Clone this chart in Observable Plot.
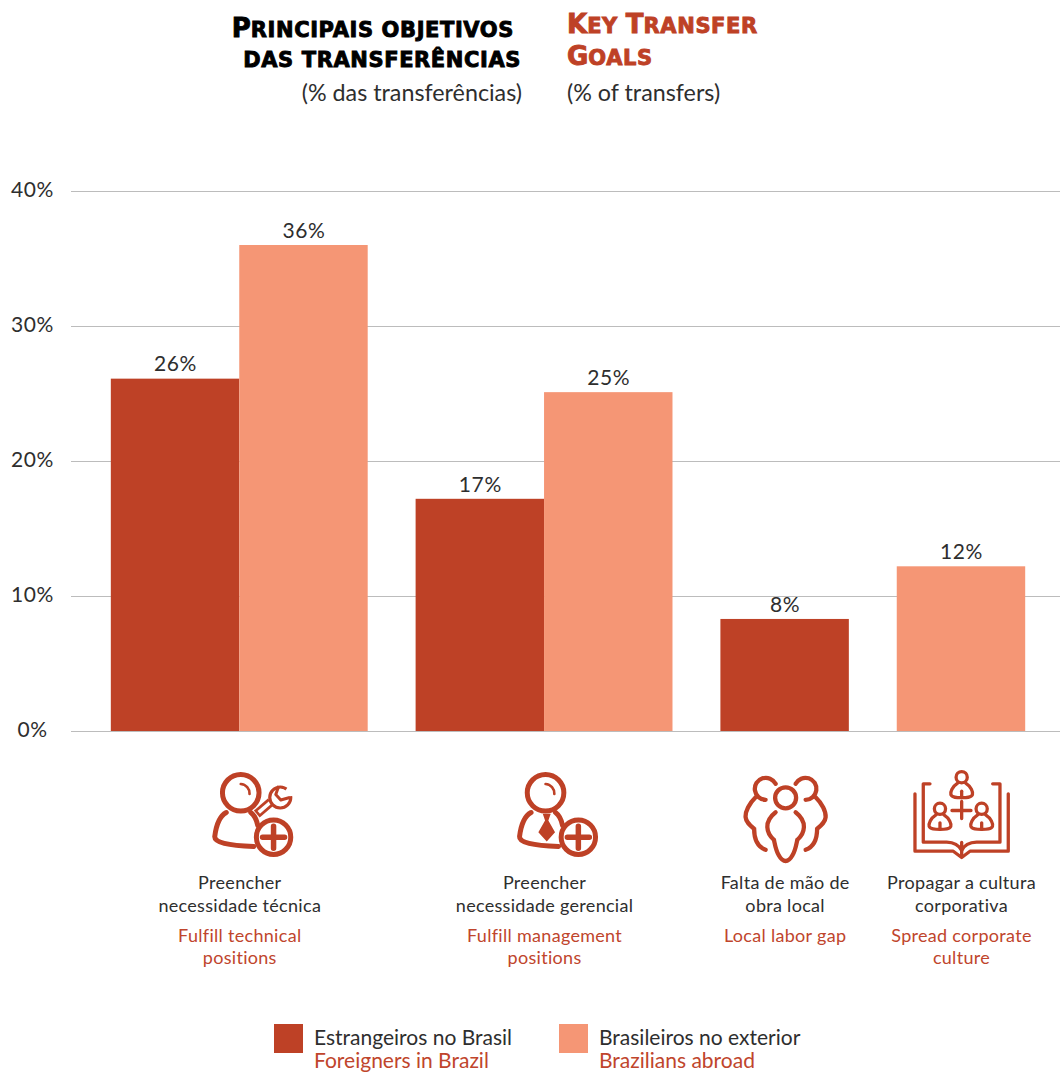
<!DOCTYPE html>
<html><head><meta charset="utf-8">
<script src="https://cdn.jsdelivr.net/npm/d3@7"></script>
<script src="https://cdn.jsdelivr.net/npm/@observablehq/plot@0.6"></script>
<style>
html,body{margin:0;padding:0;background:#fff;overflow:hidden}
body{width:1060px;height:1072px;font-family:Lato,sans-serif;color:#2e2e2e}
#head{position:relative;height:150px}
#head div,#legend div{position:absolute;white-space:nowrap}
.ttl{font-family:"DejaVu Sans";font-weight:700;font-size:26px;line-height:30px;-webkit-text-stroke:.9px currentColor}
.ttl span{font-size:21px;letter-spacing:.6px}
.sub{font-size:23.300px;line-height:26px}
#legend{position:relative;height:57px;overflow:hidden;font-size:21px;line-height:25px}
svg{display:block}
</style></head><body>
<div id="head"></div>
<div id="chart"></div>
<div id="legend"></div>
<script>
const dark = "#be4126", light = "#f59675";
const categories = ["tech","mgmt","labor","culture"];
const ptLabels = ["Preencher\nnecessidade técnica","Preencher\nnecessidade gerencial","Falta de mão de\nobra local","Propagar a cultura\ncorporativa"];
const enLabels = ["Fulfill technical\npositions","Fulfill management\npositions","Local labor gap","Spread corporate\nculture"];
const foreigners = [26.1,17.2,8.3,null];
const brazilians = [36,25.1,null,12.2];
const yTicks = [0,10,20,30,40];
const leftPad = 0.31, groupGap = 0.373, rightEnd = 7.7;

// Lay the bars out in bar-width units, one after another
let cursor = leftPad;
const bars = [], groups = [];
categories.forEach((c,i)=>{
  const start = cursor;
  [[foreigners[i],dark],[brazilians[i],light]].forEach(([v,col])=>{
    if(v!=null){bars.push({c,v,col,x1:cursor,x2:cursor+1}); cursor+=1;}
  });
  groups.push({c,mid:(start+cursor)/2,pt:ptLabels[i],en:enLabels[i],icon:i});
  cursor+=groupGap;
});

const R="#be4126";
const person=`<circle cx="1" cy="-22.7" r="18.3" fill="#fff" stroke="${R}" stroke-width="5"/>
<path d="M1,-31.5A9.5,9.5 0 0 1 9.8,-21.5" fill="none" stroke="${R}" stroke-width="2.6" stroke-linecap="round"/>
<path d="M-13.5,-3C-21,1 -24,13 -25,21C-25.500,27 -12,30 14,31" fill="none" stroke="${R}" stroke-width="5" stroke-linecap="round"/>
<path d="M11,-3C15,0 17,5 18,10" fill="none" stroke="${R}" stroke-width="5" stroke-linecap="round"/>`;
const plus=`<circle cx="33.8" cy="21.7" r="17.200" fill="#fff" stroke="${R}" stroke-width="5"/>
<path d="M22.800,21.700H44.800M33.800,10.700V32.700" stroke="${R}" stroke-width="5.500" stroke-linecap="round"/>`;
const wrench=`<path d="M17,-1.500L31,-13.500" stroke="${R}" stroke-width="9"/>
<path d="M19,-3.200L31,-13.500" stroke="#fff" stroke-width="3.600"/>
<circle cx="40.500" cy="-18" r="10.500" fill="#fff" stroke="${R}" stroke-width="3.200"/>
<path d="M40.500,-18L50,-31L56,-20Z" fill="#fff"/>
<path d="M39,-29.500L36,-21L41,-15.500L50,-18" fill="none" stroke="${R}" stroke-width="3" stroke-linejoin="round"/>`;
const tie=`<path d="M-1.800,-1.700H6.200L3.800,5L10.500,16.700L2.200,26L-6.200,16.700L.5,5Z" fill="${R}"/>`;
const side=`<path d="M-9.500,-31.700A11,11 0 1 0 -19.500,-15.700" /><path d="M-29.500,-18.300C-36,-12 -40,-4 -39.500,1.700C-39,7 -35,10 -31,13.300C-31,22 -29,31 -19.500,34.300"/>`;
const people=`<g fill="none" stroke="${R}" stroke-width="4.300" stroke-linecap="round">
${side}<g transform="translate(1,0) scale(-1,1)">${side}</g>
<circle cx=".5" cy="-17.700" r="10.500"/>
<path d="M-9.500,-3.300C-15,1 -18,7 -17.800,11.700C-17.500,18 -14,22 -11.200,24.300C-10,30 -9,36 -6.200,40C-4,44 -2,45.500 .5,45.500C3,45.500 5,44 7.200,40C10,36 11,30 12.200,24.300C15,22 18.500,18 18.800,11.700C19,7 16,1 10.500,-3.300"/></g>`;
const small=(x,y)=>`<g transform="translate(${x},${y})"><circle r="5.600"/><path d="M-4,6C-9.500,9.500 -11.500,15 -10.800,17.500C-9.500,20.500 -5,20.500 0,20.500C5,20.500 9.500,20.500 10.800,17.500C11.500,15 9.500,9.500 4,6"/><path d="M0,14V20.500"/></g>`;
const book=`<g fill="none" stroke="${R}" stroke-width="3.300" stroke-linecap="round" stroke-linejoin="round">
${small(.2,-38.300)}${small(-21.500,-6.700)}${small(20.200,-6.700)}
<path d="M.2,-14V3M-9.500,-5H9.500"/>
<path d="M-46.500,-21.700V35.700H-8.200L.2,42L8.500,35.700H46.800V-21.700"/>
<path d="M-31.500,-31.700H-38.200V26.700H-14.800Q-4,27 .2,35Q4,27 15.200,26.700H38.500V-31.700H31.200"/>
<path d="M.2,27V41"/></g>`;
const iconBodies=[wrench+person+plus, person+tie+plus, people, book];
const iconUri=b=>"data:image/svg+xml,"+encodeURIComponent(`<svg xmlns="http://www.w3.org/2000/svg" viewBox="-60 -50 120 100" width="120" height="100">${b}</svg>`);
groups.forEach(g=>g.src=iconUri(iconBodies[g.icon]));

const chart = Plot.plot({
  width:1060, height:865,
  marginLeft:71, marginRight:0, marginTop:41, marginBottom:284,
  style:{fontFamily:"Lato,sans-serif",background:"#fff"},
  x:{domain:[0,rightEnd],axis:null},
  y:{domain:[0,40],axis:null},
  marks:[
    Plot.ruleY(yTicks,{stroke:"#bcbcbc",strokeWidth:1}),
    Plot.rectY(bars,{x1:"x1",x2:"x2",y:"v",fill:"col"}),
    Plot.text(bars,{x:d=>(d.x1+d.x2)/2,y:"v",text:d=>d3.format(".0f")(d.v)+"%",dy:-14.5,fontSize:21,fill:"#2e2e2e"}),
    Plot.axisY({ticks:yTicks,tickSize:0,tickFormat:d=>d+"%",anchor:"left",textAnchor:"middle",tickPadding:0,dx:-39,dy:-1,fontSize:21,fill:"#2e2e2e",label:null}),
    Plot.image(groups,{x:"mid",y:()=>0,src:"src",width:120,height:100,dy:84}),
    Plot.text(groups,{x:"mid",y:()=>0,text:"pt",dy:141,lineAnchor:"top",lineHeight:1.28,fontSize:18,fill:"#2e2e2e"}),
    Plot.text(groups,{x:"mid",y:()=>0,text:"en",dy:195,lineAnchor:"top",lineHeight:1.22,fontSize:18,fill:"#c0452c"})
  ]
});
// Slightly wider tracking for the chart's texts, matching the reference's wider face
chart.querySelectorAll("g[aria-label='y-axis tick label'] text").forEach(t=>t.style.letterSpacing=".6px");
chart.querySelectorAll("g[aria-label='text'] text").forEach(t=>{
  const fs=t.parentNode.getAttribute("font-size");
  t.style.letterSpacing=fs==="21"?".6px":".3px";
});
document.getElementById("chart").append(chart);

// Title: capitals at full size, the rest as enlarged small capitals
const head=document.getElementById("head");
const add=(parent,css,html,cls)=>{const d=document.createElement("div");d.style.cssText=css;d.innerHTML=html;if(cls)d.className=cls;parent.append(d);};
const sc=s=>s.replace(/[^A-Z]+/g,m=>`<span>${m.toUpperCase()}</span>`);
add(head,"right:546px;top:13px;color:#000",sc("Principais objetivos"),"ttl");
add(head,"right:539px;top:43px;color:#000",sc("das transferências"),"ttl");
add(head,"right:538px;top:79px","(% das transferências)","sub");
add(head,"left:567px;top:9px;color:#be4126",sc("Key Transfer"),"ttl");
add(head,"left:567px;top:41px;color:#be4126",sc("Goals"),"ttl");
add(head,"left:567px;top:79px","(% of transfers)","sub");

// Legend
const lg=document.getElementById("legend");
[[274,dark,"Estrangeiros no Brasil","Foreigners in Brazil"],[559,light,"Brasileiros no exterior","Brazilians abroad"]].forEach(([x,c,a,b])=>{
  add(lg,`left:${x}px;top:9px;width:29px;height:29px;background:${c}`,"");
  add(lg,`left:${x+40}px;top:9px`,a);
  add(lg,`left:${x+40}px;top:32px;color:#c0452c`,b);
});
</script>
</body></html>
